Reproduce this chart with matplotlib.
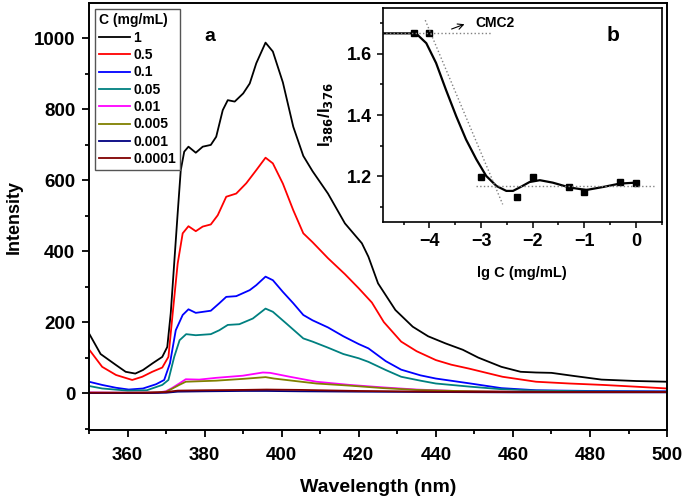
import matplotlib
matplotlib.use("Agg")
import matplotlib.pyplot as plt
from matplotlib.ticker import MultipleLocator

plt.rcParams["font.family"] = ["Liberation Sans", "DejaVu Sans"]
plt.rcParams["font.weight"] = "bold"

# spectra (wavelength nm, intensity)
wl_1 = [350, 353, 357, 359.5, 362, 364, 366.5, 369, 370.3, 371.2, 372.1, 373, 373.8, 374.7, 375.8,
        377.7, 379.5, 381.6, 383, 384.7, 386, 387.8, 390, 391.7, 393.4, 395.8, 397.7, 400.3, 403,
        405.6, 408, 412, 416.4, 420.8, 422.5, 425, 429.5, 434, 438, 442.5, 447, 451, 457, 462,
        466, 470, 476, 483, 492, 500]
I_1 = [168, 110, 79, 60, 55, 65, 84, 102, 130, 225, 366, 507, 628, 680, 694,
       677, 694, 699, 722, 797, 825, 821, 844, 872, 929, 987, 962, 875, 750,
       668, 625, 562, 478, 422, 384, 309, 234, 187, 160, 140, 122, 100, 74, 60,
       58, 57, 48, 38, 34, 32]

wl_05 = [350, 353.4, 357, 361.2, 363.8, 366.4, 369, 370.6, 371.7, 373, 374.3, 375.8, 377.7, 379.5,
         381.6, 383.4, 385.6, 388.2, 390.8, 393.4, 395.8, 397.7, 400.3, 403, 405.6, 408, 412,
         416.4, 420, 423.4, 426.5, 431, 435, 440, 444, 448.6, 457.3, 466, 474.7, 483.4, 492, 500]
I_05 = [123, 74, 51, 37, 46, 60, 72, 102, 224, 365, 450, 470, 456, 469,
        475, 501, 553, 562, 591, 628, 663, 647, 590, 515, 450, 425, 380,
        335, 295, 255, 200, 145, 118, 93, 80, 69, 46, 32, 27, 23, 18, 13]

wl_01 = [350, 353.4, 357, 360.3, 364, 367.4, 369.5, 371, 372.5, 374.3, 375.8, 377.7, 381.6, 383.8,
         385.6, 388.2, 391.7, 393.4, 395.8, 397.7, 400.3, 403, 405.6, 408, 412, 416, 420, 422.5,
         427, 431, 436, 440, 449, 457, 466, 480, 500]
I_01 = [32, 23, 15, 10, 13, 25, 37, 84, 177, 220, 236, 226, 232, 253,
        271, 273, 290, 304, 328, 318, 285, 253, 220, 205, 185, 160, 138, 126,
        90, 66, 50, 41, 27, 14, 8, 6, 5]

wl_005 = [350, 353.4, 360, 365, 369, 370.6, 372.1, 373.5, 375.2, 377.7, 381.6, 383.8, 386, 389,
          392.5, 395.8, 397.7, 401.2, 405.6, 408, 412, 416, 420, 422.5, 427, 431, 436, 440, 449,
          457, 466, 480, 500]
I_005 = [20, 13, 7, 8, 23, 37, 102, 149, 166, 163, 166, 177, 192, 194,
         210, 238, 229, 196, 154, 145, 128, 110, 98, 88, 65, 46, 35, 27, 18,
         11, 7, 5, 4]

wl_001 = [350, 360, 368, 369.9, 371.5, 373.4, 375.1, 378.6, 383, 389.9, 395.1, 397, 402.1, 409,
          417.7, 426.4, 435, 445, 460, 480, 500]
I_001 = [2, 1, 2, 5, 14, 27, 39, 38, 43, 49, 58, 57, 46, 32, 23, 16, 10, 6, 4, 3, 3]

wl_0005 = [350, 360, 368, 370, 371.5, 373.4, 375.1, 383, 389.9, 395.8, 398, 409, 417.7, 426.4,
           435, 445, 460, 480, 500]
I_0005 = [1, 1, 2, 4, 12, 23, 32, 35, 40, 45, 41, 27, 21, 14, 9, 6, 4, 3, 3]

wl_0001 = [350, 365, 370, 373, 380, 390, 396, 405, 420, 440, 460, 480, 500]
I_0001 = [0, 0, 1, 4, 5, 6, 6, 5, 4, 3, 2, 2, 2]

wl_00001 = [350, 365, 370, 373, 380, 390, 396, 405, 420, 440, 460, 480, 500]
I_00001 = [1, 1, 3, 7, 8, 9, 10, 9, 6, 4, 3, 3, 3]

labels = ["1", "0.5", "0.1", "0.05", "0.01", "0.005", "0.001", "0.0001"]
colors = ["#000000", "#ff0000", "#0000ff", "#008080", "#ff00ff", "#808000", "#000080", "#800000"]

# inset: I386/I376 vs lg C
lgc = [-4.3, -4, -3, -2.3, -2, -1.3, -1, -0.3, 0]
ratio = [1.667, 1.667, 1.199, 1.132, 1.198, 1.165, 1.149, 1.180, 1.178]
fit_x = [-4.92, -4.26, -4.06, -3.87, -3.68, -3.48, -3.29, -3.09, -2.90, -2.70, -2.51, -2.38,
         -2.22, -2.06, -1.86, -1.61, -1.28, -0.96, -0.63, -0.31, 0.0]
fit_y = [1.667, 1.667, 1.635, 1.570, 1.483, 1.396, 1.320, 1.255, 1.201, 1.168, 1.152, 1.152,
         1.166, 1.181, 1.187, 1.179, 1.163, 1.155, 1.165, 1.176, 1.179]
top_level = 1.667
low_level = 1.167
slope_x = [-4.08, -2.58]
slope_y = [1.71, 1.108]

fig = plt.figure(figsize=(6.85, 4.98), dpi=100)
ax = fig.add_axes([0.130, 0.1365, 0.8438, 0.857])

spectra = [(wl_1, I_1), (wl_05, I_05), (wl_01, I_01), (wl_005, I_005),
           (wl_001, I_001), (wl_0005, I_0005), (wl_0001, I_0001), (wl_00001, I_00001)]
for (x, y), lab, c in zip(spectra, labels, colors):
    ax.plot(x, y, color=c, lw=1.3, label=lab, solid_joinstyle="round")

ax.set_xlim(350, 500)
ax.set_ylim(-104, 1098)
ax.xaxis.set_major_locator(MultipleLocator(20))
ax.xaxis.set_minor_locator(MultipleLocator(10))
ax.yaxis.set_major_locator(MultipleLocator(200))
ax.yaxis.set_minor_locator(MultipleLocator(100))
ax.tick_params(which="both", direction="out", width=1.3, labelsize=13.5, pad=5)
ax.tick_params(axis="x", pad=7)
ax.tick_params(which="major", length=5)
ax.tick_params(which="minor", length=3)
for s in ax.spines.values():
    s.set_linewidth(1.4)
ax.set_xlabel("Wavelength (nm)", fontsize=14, fontweight="bold", labelpad=11)
ax.set_ylabel("Intensity", fontsize=13, fontweight="bold", labelpad=8)
ax.text(381.4, 1003, "a", fontsize=14, fontweight="bold", ha="center", va="center")

leg = ax.legend(loc="upper left", bbox_to_anchor=(0.01, 0.986), title="C (mg/mL)",
                fontsize=10, title_fontproperties={"weight": "bold", "size": 10},
                handlelength=2.2, handletextpad=0.25, labelspacing=0.24, borderpad=0.3,
                borderaxespad=0, fancybox=False, framealpha=1, alignment="left")
leg.get_frame().set_edgecolor("#555555")
leg.get_frame().set_linewidth(1.0)

# inset
ins = fig.add_axes([0.559, 0.554, 0.407, 0.430])
ins.plot(fit_x, fit_y, color="black", lw=1.6)
ins.plot(lgc, ratio, "s", color="black", markersize=4)
ins.plot([-4.92, -2.78], [top_level, top_level], ":", color="gray", lw=1)
ins.plot([-3.09, 0.35], [low_level, low_level], ":", color="gray", lw=1)
ins.plot(slope_x, slope_y, ":", color="gray", lw=1)
ins.annotate("", xy=(-3.27, 1.70), xytext=(-3.62, 1.678),
             arrowprops=dict(arrowstyle="->", color="black", lw=0.8))
ins.text(-3.1, 1.70, "CMC2", fontsize=10, fontweight="bold", va="center")
ins.text(-0.45, 1.66, "b", fontsize=15, fontweight="bold", ha="center", va="center")
ins.set_xlim(-4.9, 0.5)
ins.set_ylim(1.05, 1.75)
ins.xaxis.set_major_locator(MultipleLocator(1))
ins.xaxis.set_minor_locator(MultipleLocator(0.5))
ins.yaxis.set_major_locator(MultipleLocator(0.2))
ins.yaxis.set_minor_locator(MultipleLocator(0.1))
ins.tick_params(which="both", direction="out", width=1.1, labelsize=13)
ins.tick_params(which="major", length=4)
ins.tick_params(which="minor", length=2.5)
for s in ins.spines.values():
    s.set_linewidth(1.2)
ins.set_xlabel("lg C (mg/mL)", fontsize=10.5, fontweight="bold", labelpad=12)
ins.set_ylabel("I$_{386}$/I$_{376}$", fontsize=12, fontweight="bold", labelpad=9)

fig.savefig("out.png", dpi=100)
